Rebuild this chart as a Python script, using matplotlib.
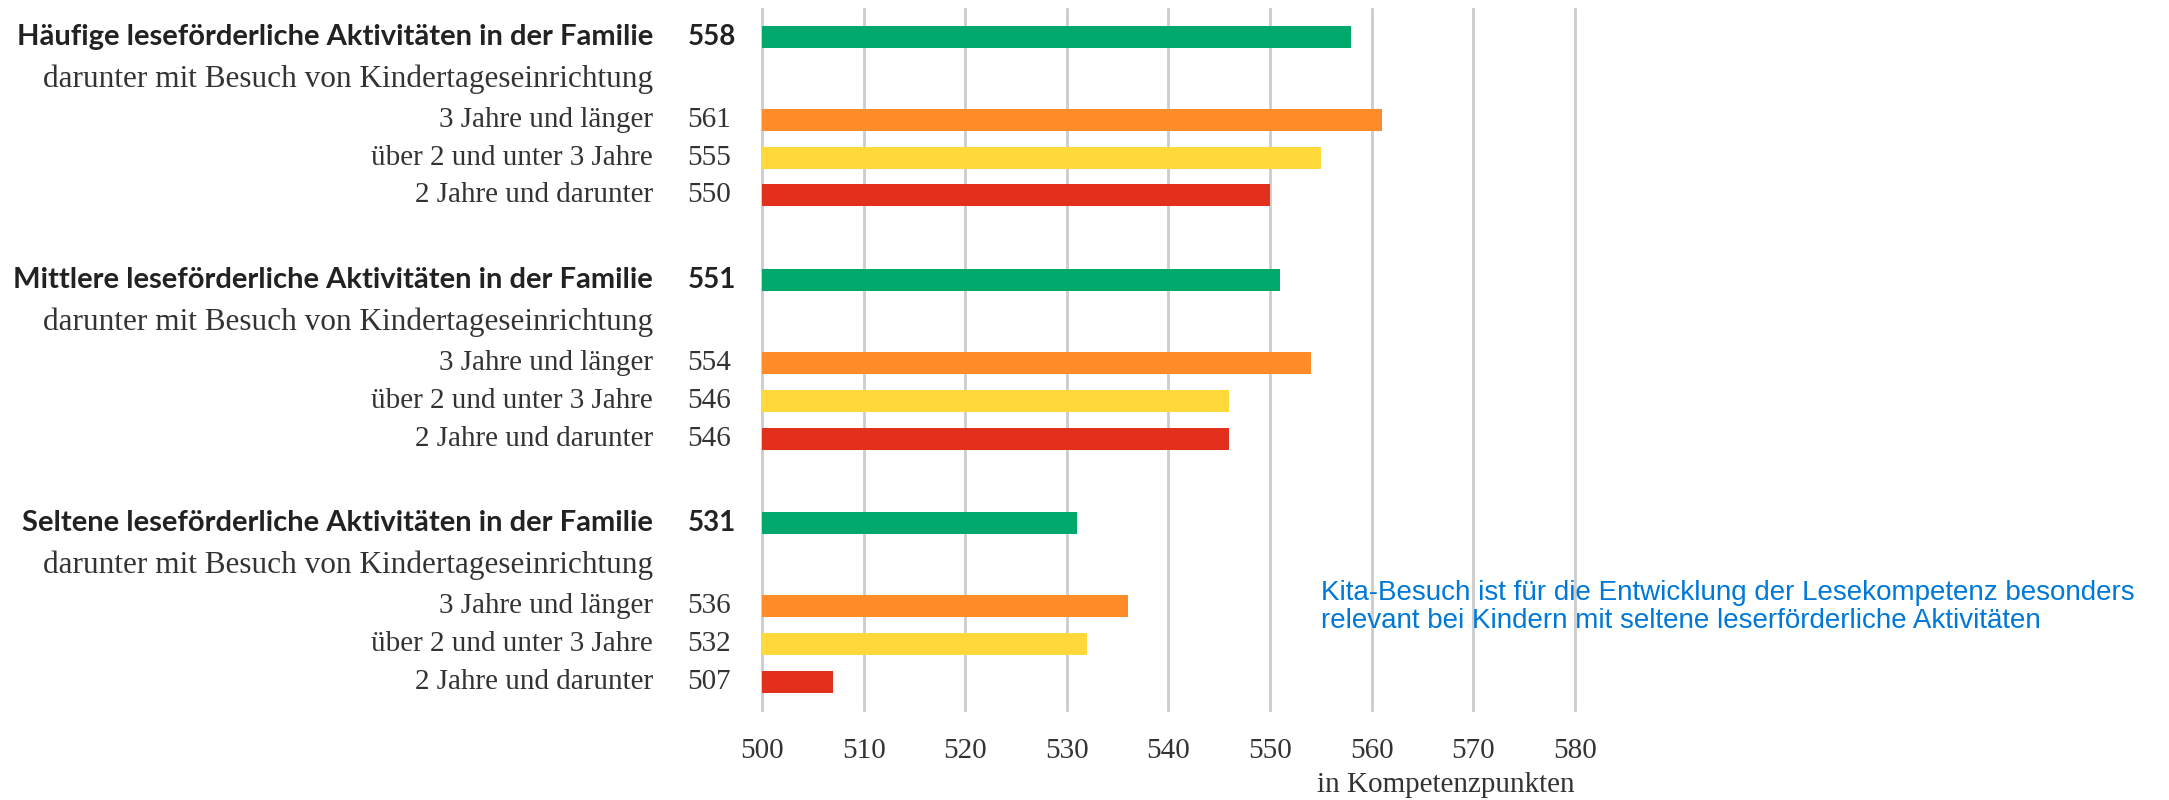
import matplotlib
matplotlib.use("Agg")
import matplotlib.pyplot as plt
import matplotlib.transforms as mtransforms

# Daten
gruppen = ["Häufige leseförderliche Aktivitäten in der Familie",
           "Mittlere leseförderliche Aktivitäten in der Familie",
           "Seltene leseförderliche Aktivitäten in der Familie"]
gesamt = [558, 551, 531]
unterzeile = "darunter mit Besuch von Kindertageseinrichtung"
kita_dauer = ["3 Jahre und länger", "über 2 und unter 3 Jahre", "2 Jahre und darunter"]
kita_werte = [[561, 555, 550],
              [554, 546, 546],
              [536, 532, 507]]
xticks = [500, 510, 520, 530, 540, 550, 560, 570, 580]
hinweis = ("Kita-Besuch ist für die Entwicklung der Lesekompetenz besonders\n"
           "relevant bei Kindern mit seltene leserförderliche Aktivitäten")

farbe_gesamt = "#00a96b"
farben_kita = ["#ff8c28", "#ffd83a", "#e2301c"]
grau = "#333333"

fig = plt.figure(figsize=(21.69, 8.0), dpi=100)
ax = fig.add_axes([0.3513, 0.1125, 0.7261 - 0.3513, 0.989 - 0.1125])

trans = mtransforms.blended_transform_factory(fig.transFigure, ax.transData)
x_label = 0.301
x_wert = 0.317

serif = "Liberation Serif"
sans_b = "Lato"

schritt = 6.45
for g, name in enumerate(gruppen):
    y0 = g * schritt
    ax.barh(y0, gesamt[g] - 500, left=500, height=0.58, color=farbe_gesamt, zorder=3)
    ax.text(x_label, y0, name, transform=trans, ha="right", va="center",
            fontsize=21, fontweight="bold", family=sans_b, color="#222222")
    ax.text(x_wert, y0, str(gesamt[g]), transform=trans, ha="left", va="center",
            fontsize=20, fontweight="bold", family=sans_b, color="#222222")
    ax.text(x_label, y0 + 1.12, unterzeile, transform=trans, ha="right", va="center",
            fontsize=22.5, family=serif, color=grau)
    for i, (lab, w) in enumerate(zip(kita_dauer, kita_werte[g])):
        y = y0 + 2.2 + i
        ax.barh(y, w - 500, left=500, height=0.58, color=farben_kita[i], zorder=3)
        ax.text(x_label, y, lab, transform=trans, ha="right", va="center",
                fontsize=21, family=serif, color=grau)
        ax.text(x_wert, y, str(w), transform=trans, ha="left", va="center",
                fontsize=21, family=serif, color=grau)

ax.set_xlim(500, 580)
ax.set_ylim(17.85, -0.75)
ax.set_xticks(xticks)
ax.set_yticks([])
ax.xaxis.grid(True, color="#cccccc", linewidth=2, zorder=0)
for gl in ax.get_xgridlines():
    gl.set_clip_on(False)
ax.tick_params(axis="x", length=0, pad=20, labelsize=21, labelcolor=grau)
for lab in ax.get_xticklabels():
    lab.set_family(serif)
for s in ax.spines.values():
    s.set_visible(False)

ax.text(1.0, -0.107, "in Kompetenzpunkten", transform=ax.transAxes, ha="right", va="center",
        fontsize=21, family=serif, color=grau)

fig.text(1321 / 2169, 1 - 607 / 800, hinweis, ha="left", va="center", fontsize=20,
         family="Liberation Sans", color="#0078d7", linespacing=1.1)

fig.savefig("out.png", dpi=100)
